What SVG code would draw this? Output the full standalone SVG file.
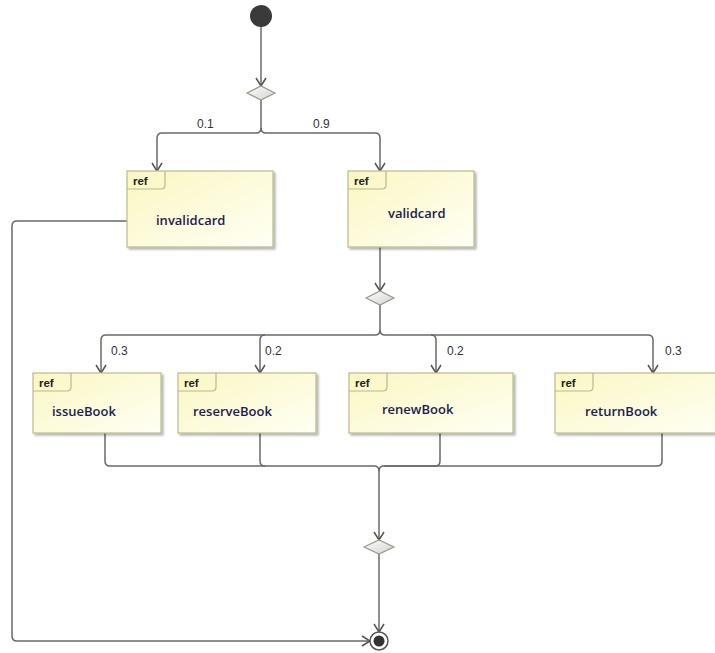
<svg xmlns="http://www.w3.org/2000/svg" width="715" height="653" viewBox="0 0 715 653">
<defs>
<linearGradient id="fill" x1="0" y1="0" x2="1" y2="1">
<stop offset="0" stop-color="#FAF7C2"/>
<stop offset="1" stop-color="#FFFFF4"/>
</linearGradient>
<linearGradient id="dfill" x1="0" y1="0" x2="1" y2="1">
<stop offset="0" stop-color="#FFFFFF"/>
<stop offset="1" stop-color="#D0D0D0"/>
</linearGradient>
<marker id="arr" viewBox="-10 -6 12 12" refX="0" refY="0" markerWidth="12" markerHeight="12" markerUnits="userSpaceOnUse" orient="auto">
<path d="M-8,-5 L0,0 L-8,5" fill="none" stroke="#555" stroke-width="1.5"/>
</marker>
<filter id="sh" x="-10%" y="-10%" width="130%" height="130%">
<feOffset dx="2" dy="2" in="SourceAlpha" result="o"/>
<feGaussianBlur in="o" stdDeviation="1" result="b"/>
<feColorMatrix in="b" type="matrix" values="0 0 0 0 0  0 0 0 0 0  0 0 0 0 0  0 0 0 0.3 0"/>
<feMerge><feMergeNode/><feMergeNode in="SourceGraphic"/></feMerge>
</filter>
</defs>
<style>
.box{fill:url(#fill);stroke:#B9B98C;stroke-width:1.2}
.tab{fill:none;stroke:#B9B98C;stroke-width:1.2}
.ref{font-family:"Liberation Sans",Arial,sans-serif;font-size:11.5px;font-weight:bold;fill:#222}
.name{font-family:"Open Sans","Liberation Sans",sans-serif;font-size:13px;font-weight:600;fill:#1C1C50}
.lbl{font-family:"Liberation Sans",Arial,sans-serif;font-size:12px;fill:#333}
.c{fill:none;stroke:#6A6A6A;stroke-width:1.5}
.dia{fill:url(#dfill);stroke:#9A9A8A;stroke-width:1.2}
</style>

<g id="connectors">
<path class="c" d="M261,26 V86" marker-end="url(#arr)"/>
<path class="c" d="M261,100 V128 Q261,133 256,133 H162 Q157,133 157,138 V171" marker-end="url(#arr)"/>
<path class="c" d="M261,128 Q261,133 266,133 H375 Q380,133 380,138 V171" marker-end="url(#arr)"/>
<path class="c" d="M380,247 V291" marker-end="url(#arr)"/>
<path class="c" d="M380,305 V330 Q380,335 375,335 H106 Q101,335 101,340 V373" marker-end="url(#arr)"/>
<path class="c" d="M265,335 Q260,335 260,340 V373" marker-end="url(#arr)"/>
<path class="c" d="M380,330 Q380,335 385,335 H648 Q653,335 653,340 V373" marker-end="url(#arr)"/>
<path class="c" d="M431,335 Q436,335 436,340 V373" marker-end="url(#arr)"/>
<path class="c" d="M105,433 V461 Q105,466 110,466 H374 Q379,466 379,471 V540" marker-end="url(#arr)"/>
<path class="c" d="M260,433 V461 Q260,466 265,466"/>
<path class="c" d="M440,433 V461 Q440,466 435,466 H384 Q379,466 379,471"/>
<path class="c" d="M662,433 V461 Q662,466 657,466 H384"/>
<path class="c" d="M379,554 V632" marker-end="url(#arr)"/>
<path class="c" d="M127,221 H17 Q12,221 12,226 V636 Q12,641 17,641 H370" marker-end="url(#arr)"/>
<text class="lbl" x="197" y="128">0.1</text>
<text class="lbl" x="313" y="128">0.9</text>
<text class="lbl" x="111" y="355">0.3</text>
<text class="lbl" x="265" y="355">0.2</text>
<text class="lbl" x="447" y="355">0.2</text>
<text class="lbl" x="665" y="355">0.3</text>
</g>

<g id="initial">
<circle cx="261" cy="16" r="11" fill="#3A3A3A"/>
</g>
<g id="decision1">
<path class="dia" d="M247,93 L261,86 L275,93 L261,100 Z"/>
</g>

<g id="invalidcard">
<rect class="box" x="127" y="171" width="146" height="76" filter="url(#sh)"/>
<path class="tab" d="M127,189 H161 Q165,189 165,185 V171"/>
<text class="ref" x="133" y="185">ref</text>
<text class="name" x="156" y="225">invalidcard</text>
</g>

<g id="validcard">
<rect class="box" x="348" y="171" width="126" height="76" filter="url(#sh)"/>
<path class="tab" d="M348,189 H382 Q386,189 386,185 V171"/>
<text class="ref" x="354" y="185">ref</text>
<text class="name" x="388" y="218">validcard</text>
</g>

<g id="decision2">
<path class="dia" d="M366,298 L380,291 L394,298 L380,305 Z"/>
</g>

<g id="issueBook">
<rect class="box" x="33" y="373" width="128" height="60" filter="url(#sh)"/>
<path class="tab" d="M33,391 H67 Q71,391 71,387 V373"/>
<text class="ref" x="39" y="387">ref</text>
<text class="name" x="52" y="416">issueBook</text>
</g>

<g id="reserveBook">
<rect class="box" x="178" y="373" width="138" height="60" filter="url(#sh)"/>
<path class="tab" d="M178,391 H212 Q216,391 216,387 V373"/>
<text class="ref" x="184" y="387">ref</text>
<text class="name" x="193" y="416">reserveBook</text>
</g>

<g id="renewBook">
<rect class="box" x="349" y="373" width="164" height="60" filter="url(#sh)"/>
<path class="tab" d="M349,391 H383 Q387,391 387,387 V373"/>
<text class="ref" x="355" y="387">ref</text>
<text class="name" x="382" y="414">renewBook</text>
</g>

<g id="returnBook">
<rect class="box" x="555" y="373" width="166" height="60" filter="url(#sh)"/>
<path class="tab" d="M555,391 H589 Q593,391 593,387 V373"/>
<text class="ref" x="561" y="387">ref</text>
<text class="name" x="585" y="416">returnBook</text>
</g>

<g id="merge">
<path class="dia" d="M364,547 L379,540 L394,547 L379,554 Z"/>
</g>

<g id="final">
<circle cx="379" cy="641" r="9" fill="#fff" stroke="#555" stroke-width="1.5"/>
<circle cx="379" cy="641" r="5.5" fill="#333"/>
</g>
</svg>
